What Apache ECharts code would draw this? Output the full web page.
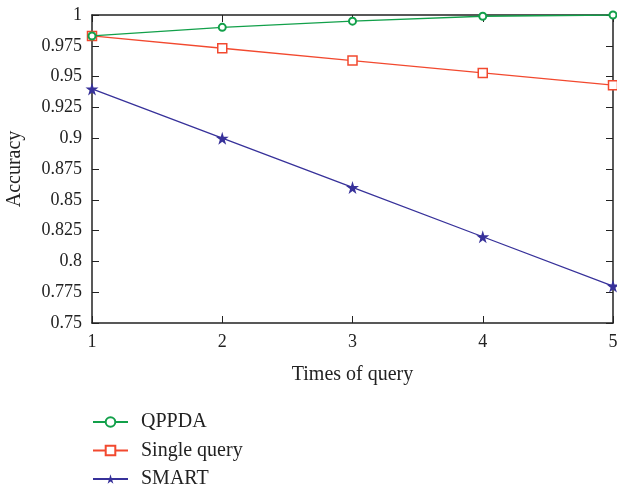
<!DOCTYPE html>
<html><head><meta charset="utf-8">
<script src="https://cdn.jsdelivr.net/npm/echarts@6/dist/echarts.min.js"></script>
<style>html,body{margin:0;padding:0;background:#fff}#c{width:617px;height:485px}</style>
</head><body><div id="c"></div>
<script>
var times = [1, 2, 3, 4, 5];
var qppda = [0.983, 0.990, 0.995, 0.999, 1.000];
var singleQuery = [0.983, 0.973, 0.963, 0.953, 0.943];
var smart = [0.940, 0.900, 0.860, 0.820, 0.780];
var seriesNames = ['QPPDA', 'Single query', 'SMART'];

function pairs(v){ return times.map(function(t,i){ return [t, v[i]]; }); }
var star = 'path://M50,0 L61,35 L98,35 L68,57 L79,91 L50,70 L21,91 L32,57 L2,35 L39,35 Z';
var font = 'Liberation Serif';
var chart = echarts.init(document.getElementById('c'));
var axLine = {lineStyle:{color:'#222', width:1.5}};
chart.setOption({
  animation:false,
  textStyle:{fontFamily:font},
  grid:{left:92, right:4, top:15, bottom:162, containLabel:false, outerBoundsMode:'none'},
  legend:{
    orient:'vertical', left:92, top:412, height:100, itemGap:8.5, itemWidth:35, itemHeight:12,
    padding:0,
    textStyle:{fontFamily:font, fontSize:20, color:'#222', padding:[0,0,0,8]},
    data:seriesNames
  },
  xAxis:[{
    type:'value', min:1, max:5, interval:1,
    name:'Times of query', nameLocation:'middle', nameGap:42,
    nameTextStyle:{fontFamily:font, fontSize:20, color:'#222'},
    axisLine:axLine, axisTick:{inside:true, length:7, lineStyle:{color:'#222'}},
    axisLabel:{fontFamily:font, fontSize:18, color:'#222', margin:10},
    splitLine:{show:false}
  },{
    type:'value', position:'top', min:1, max:5, interval:1,
    axisLine:axLine, axisTick:{inside:true, length:7, lineStyle:{color:'#222'}},
    axisLabel:{show:false}, splitLine:{show:false}
  }],
  yAxis:[{
    type:'value', min:0.75, max:1, interval:0.025,
    name:'Accuracy', nameLocation:'middle', nameGap:67,
    nameTextStyle:{fontFamily:font, fontSize:20, color:'#222'},
    axisLine:axLine, axisTick:{inside:true, length:7, lineStyle:{color:'#222'}},
    axisLabel:{fontFamily:font, fontSize:18, color:'#222', margin:10,
      formatter:function(v){ return String(+v.toFixed(3)); }},
    splitLine:{show:false}
  },{
    type:'value', position:'right', min:0.75, max:1, interval:0.025,
    axisLine:axLine, axisTick:{inside:true, length:7, lineStyle:{color:'#222'}},
    axisLabel:{show:false}, splitLine:{show:false}
  }],
  series:[
    {name:seriesNames[0], type:'line', data:pairs(qppda), symbol:'emptyCircle', symbolSize:7,
     lineStyle:{color:'#12a04a', width:1.3}, itemStyle:{color:'#12a04a', borderWidth:1.3}, z:4},
    {name:seriesNames[1], type:'line', data:pairs(singleQuery), symbol:'rect', symbolSize:9,
     lineStyle:{color:'#f2492f', width:1.3}, itemStyle:{color:'#fff', borderColor:'#f2492f', borderWidth:1.5}, z:3},
    {name:seriesNames[2], type:'line', data:pairs(smart), symbol:star, symbolSize:13,
     lineStyle:{color:'#37319a', width:1.3}, itemStyle:{color:'#37319a'}, z:3}
  ]
});
</script></body></html>
